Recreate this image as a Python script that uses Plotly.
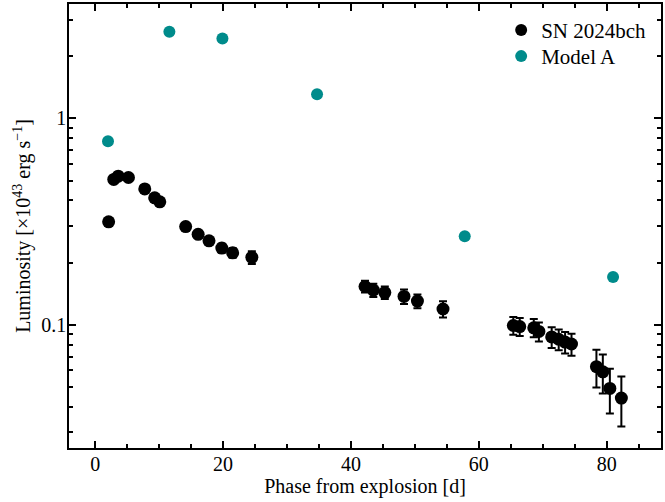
import numpy as np
import plotly.graph_objects as go

# Observed bolometric light curve of SN 2024bch
sn_phase = [2.1, 2.9, 3.6, 5.2, 7.75, 9.3, 10.1, 14.15, 16.1, 17.8, 19.8, 21.5, 24.5,
            42.2, 43.5, 45.3, 48.3, 50.4, 54.4,
            65.4, 66.4, 68.6, 69.4, 71.4, 72.5, 73.5, 74.5,
            78.4, 79.4, 80.5, 82.3]
sn_lum = [0.315, 0.506, 0.525, 0.517, 0.455, 0.412, 0.394, 0.299, 0.274, 0.255, 0.235, 0.223, 0.212,
          0.153, 0.147, 0.143, 0.137, 0.130, 0.119,
          0.0990, 0.0978, 0.0965, 0.0927, 0.0871, 0.0849, 0.0823, 0.0805,
          0.0625, 0.0590, 0.0490, 0.0440]
sn_err = [0.008, 0.010, 0.010, 0.010, 0.010, 0.010, 0.010, 0.010, 0.010, 0.011, 0.012, 0.012, 0.015,
          0.010, 0.011, 0.010, 0.011, 0.010, 0.0107,
          0.0098, 0.0098, 0.0098, 0.0098, 0.0100, 0.0098, 0.0098, 0.0098,
          0.0130, 0.0127, 0.0120, 0.0120]

# Model A light curve
model_phase = [2.0, 11.6, 19.9, 34.7, 57.8, 81.0]
model_lum = [0.776, 2.63, 2.44, 1.31, 0.268, 0.170]

x_major = [0, 20, 40, 60, 80]
y_major = [0.1, 1]
y_major_text = ["0.1", "1"]
y_minor = [m * 10.0 ** e for e in (-2, -1, 0) for m in range(2, 10)]

FONT = "Liberation Serif, Times New Roman, serif"

fig = go.Figure()
fig.add_trace(go.Scatter(
    x=sn_phase, y=sn_lum, mode="markers", name="SN 2024bch",
    marker=dict(color="black", size=13),
    error_y=dict(type="data", array=sn_err, visible=True,
                 color="black", thickness=2, width=4),
    legend="legend",
))
fig.add_trace(go.Scatter(
    x=model_phase, y=model_lum, mode="markers", name="Model A",
    marker=dict(color="#008b8b", size=12),
    legend="legend2",
))

axis_common = dict(
    showline=True, linecolor="black", linewidth=1.5, mirror="ticks",
    ticks="inside", ticklen=7, tickwidth=1.5, tickcolor="black",
    showgrid=False, zeroline=False, ticklabelstandoff=-3,
    tickfont=dict(family=FONT, size=20, color="black"),
)

fig.update_xaxes(
    range=[-4.1, 88.5], tickmode="array", tickvals=x_major,
    minor=dict(dtick=5, tick0=0, ticks="inside", ticklen=4, tickwidth=1.5,
               tickcolor="black", showgrid=False),
    title=dict(text="Phase from explosion [d]",
               font=dict(family=FONT, size=20, color="black"), standoff=2),
    **axis_common,
)
fig.update_yaxes(
    type="log", range=[np.log10(0.0252), np.log10(3.59)],
    tickmode="array", tickvals=y_major, ticktext=y_major_text,
    minor=dict(tickvals=y_minor, ticks="inside", ticklen=4, tickwidth=1.5,
               tickcolor="black", showgrid=False),
    title=dict(text="Luminosity [×10<sup>43</sup> erg s<sup>−1</sup>]",
               font=dict(family=FONT, size=20, color="black"), standoff=5),
    **axis_common,
)

legend_style = dict(xanchor="left", yanchor="top", bgcolor="rgba(0,0,0,0)",
                    borderwidth=0, itemsizing="constant",
                    font=dict(family=FONT, size=21, color="black"))

fig.update_layout(
    width=665, height=502,
    margin=dict(l=69, r=2, t=4, b=54),
    paper_bgcolor="white", plot_bgcolor="white",
    font=dict(family=FONT, size=20, color="black"),
    showlegend=True,
    legend=dict(x=0.730, y=0.987, **legend_style),
    legend2=dict(x=0.730, y=0.928, **legend_style),
)

fig.write_html("out.html")
